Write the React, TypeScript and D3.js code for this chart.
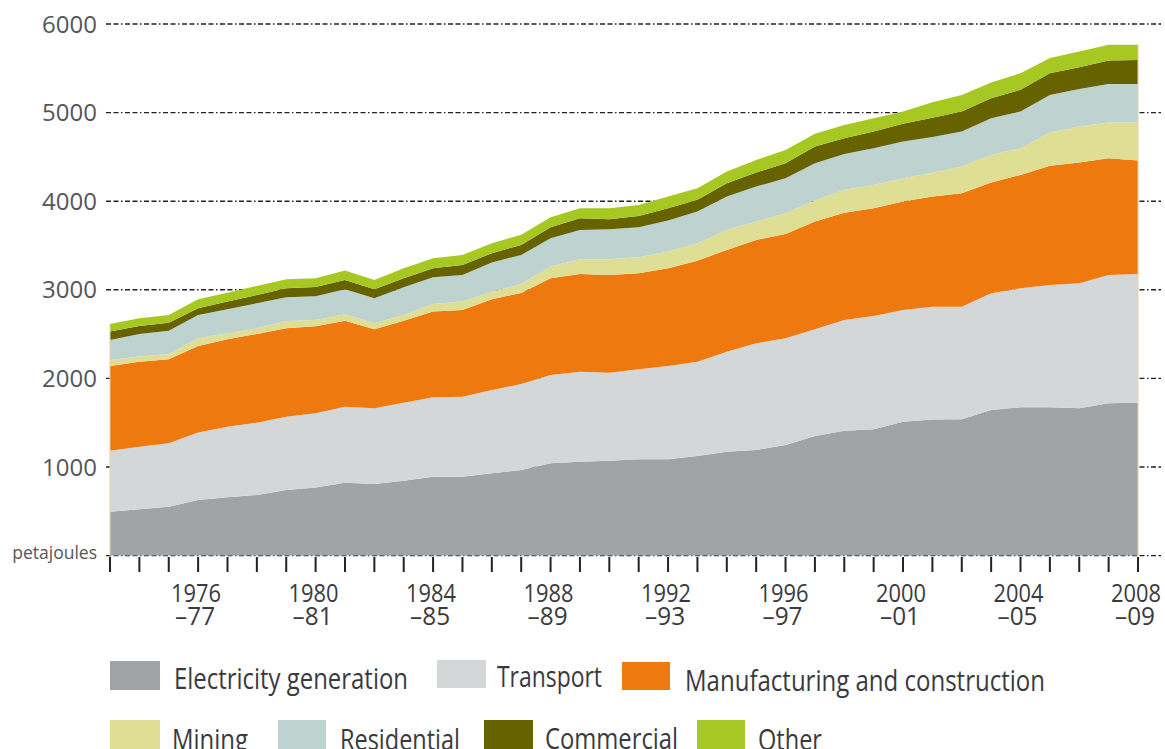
import React from "react";
import * as d3 from "d3";

const YEARS = [
  "1973–74", "1974–75", "1975–76", "1976–77", "1977–78", "1978–79", "1979–80", "1980–81", "1981–82",
  "1982–83", "1983–84", "1984–85", "1985–86", "1986–87", "1987–88", "1988–89", "1989–90", "1990–91",
  "1991–92", "1992–93", "1993–94", "1994–95", "1995–96", "1996–97", "1997–98", "1998–99", "1999–00",
  "2000–01", "2001–02", "2002–03", "2003–04", "2004–05", "2005–06", "2006–07", "2007–08", "2008–09",
];

const electricity = [496, 523, 552, 628, 658, 684, 741, 769, 823, 808, 846, 891, 891, 929, 966, 1042, 1060, 1071, 1087, 1087, 1124, 1173, 1192, 1249, 1350, 1410, 1426, 1512, 1535, 1539, 1644, 1674, 1674, 1663, 1719, 1726];
const transport = [688, 706, 716, 760, 797, 816, 827, 838, 858, 855, 880, 896, 903, 941, 971, 997, 1016, 994, 1016, 1054, 1065, 1129, 1205, 1204, 1205, 1250, 1279, 1261, 1275, 1271, 1317, 1344, 1381, 1411, 1449, 1453];
const manufacturing = [957, 960, 948, 978, 987, 1002, 998, 982, 971, 892, 926, 967, 979, 1024, 1028, 1092, 1103, 1103, 1084, 1103, 1140, 1148, 1166, 1178, 1215, 1211, 1216, 1223, 1242, 1280, 1249, 1279, 1344, 1362, 1318, 1279];
const mining = [67, 57, 60, 87, 68, 64, 83, 71, 72, 68, 64, 87, 94, 85, 101, 131, 166, 177, 181, 187, 197, 226, 207, 234, 237, 257, 263, 264, 268, 301, 313, 301, 376, 406, 401, 429];
const residential = [226, 256, 263, 263, 271, 282, 267, 267, 283, 282, 313, 301, 301, 328, 328, 320, 331, 339, 339, 350, 357, 376, 395, 395, 422, 406, 414, 413, 406, 395, 414, 414, 425, 423, 437, 437];
const commercial = [94, 90, 90, 76, 86, 94, 102, 106, 105, 102, 102, 102, 113, 106, 113, 125, 132, 113, 127, 140, 132, 151, 158, 169, 187, 177, 188, 200, 217, 226, 226, 245, 245, 248, 263, 271];
const other = [87, 87, 87, 102, 101, 102, 101, 98, 105, 105, 113, 113, 113, 113, 113, 112, 113, 124, 124, 131, 132, 131, 143, 150, 144, 150, 151, 139, 173, 188, 176, 188, 170, 176, 178, 170];

const SERIES_NAMES = ["Electricity generation", "Transport", "Manufacturing and construction", "Mining", "Residential", "Commercial", "Other"];
const SERIES_VALUES = [electricity, transport, manufacturing, mining, residential, commercial, other];
const SERIES_COLORS = ["#a0a4a6", "#d4d7d8", "#ee790e", "#dedf95", "#bed3d0", "#676200", "#a7c823"];

const Y_TICKS = [1000, 2000, 3000, 4000, 5000, 6000];
const Y_UNIT = "petajoules";
const X_LABEL_INDEX = [3, 7, 11, 15, 19, 23, 27, 31, 35];
const X_LABELS = [
  ["1976", "–77"], ["1980", "–81"], ["1984", "–85"], ["1988", "–89"], ["1992", "–93"],
  ["1996", "–97"], ["2000", "–01"], ["2004", "–05"], ["2008", "–09"],
];

// legend layout (positions only)
const LEGEND_LAYOUT = [
  { sx: 110, sy: 661, sw: 50, sh: 29, tx: 174, ty: 689, tw: 234 },
  { sx: 437, sy: 660, sw: 49, sh: 28, tx: 497, ty: 687, tw: 105 },
  { sx: 622, sy: 662, sw: 48, sh: 28, tx: 685, ty: 691, tw: 360 },
  { sx: 110, sy: 720, sw: 50, sh: 30, tx: 172, ty: 750, tw: 76 },
  { sx: 278, sy: 720, sw: 48, sh: 30, tx: 340, ty: 750, tw: 120 },
  { sx: 484, sy: 720, sw: 49, sh: 30, tx: 545, ty: 749, tw: 133 },
  { sx: 697, sy: 720, sw: 48, sh: 30, tx: 758, ty: 750, tw: 64 },
];

const FONT = "'Open Sans', 'Noto Sans', 'DejaVu Sans', sans-serif";

export default function App() {
  const W = 1165, H = 749;
  const x = d3.scaleLinear().domain([0, YEARS.length - 1]).range([110, 1138]);
  const y = d3.scaleLinear().domain([0, 6000]).range([555.6, 24]);

  const table = YEARS.map((yr, i) => {
    const row: any = { year: yr };
    SERIES_NAMES.forEach((n, k) => (row[n] = SERIES_VALUES[k][i]));
    return row;
  });
  const stacked = d3.stack<any>().keys(SERIES_NAMES)(table);
  const area = d3
    .area<any>()
    .x((d, i) => x(i))
    .y0((d) => y(d[0]))
    .y1((d) => y(d[1]));

  const totalTop = stacked[stacked.length - 1];

  return (
    <svg
      width={W}
      height={H}
      style={{ position: "absolute", left: 0, top: 0, background: "#fff" }}
    >
      {/* gridlines */}
      {[0, ...Y_TICKS].map((v) => (
        <line
          key={"g" + v}
          x1={106}
          x2={1161}
          y1={y(v)}
          y2={y(v)}
          stroke="#222"
          strokeWidth={1.4}
          strokeDasharray="5,2.5,5,2.5,1.5,2.5"
        />
      ))}
      {/* areas */}
      {stacked.map((s, k) => (
        <path key={s.key} d={area(s) as string} fill={SERIES_COLORS[k]} />
      ))}
      {/* faint edge lines */}
      <line x1={x(0)} x2={x(0)} y1={y(0)} y2={y(totalTop[0][1])} stroke="#e8cfa6" strokeWidth={1} />
      <line
        x1={x(YEARS.length - 1)}
        x2={x(YEARS.length - 1)}
        y1={y(0)}
        y2={y(totalTop[YEARS.length - 1][1])}
        stroke="#e8cfa6"
        strokeWidth={1}
      />
      {/* y labels */}
      {Y_TICKS.map((v) => (
        <text
          key={"yl" + v}
          x={97}
          y={y(v) + 8.5}
          textAnchor="end"
          fontFamily={FONT}
          fontSize={24}
          fill="#55565a"
        >
          {v}
        </text>
      ))}
      <text x={97} y={y(0) + 3} textAnchor="end" fontFamily={FONT} fontSize={17.5} fill="#55565a">
        {Y_UNIT}
      </text>
      {/* x ticks */}
      {YEARS.map((yr, i) => (
        <line key={"xt" + i} x1={x(i)} x2={x(i)} y1={557} y2={572} stroke="#222" strokeWidth={2} />
      ))}
      {/* x labels */}
      {X_LABEL_INDEX.map((idx, j) => (
        <text key={"xl" + idx} fontFamily={FONT} fontSize={25} fill="#3a3a3e" textAnchor="middle">
          <tspan x={x(idx) - 2} y={602} textLength={50} lengthAdjust="spacingAndGlyphs">
            {X_LABELS[j][0]}
          </tspan>
          <tspan x={x(idx) - 3} y={625} textLength={40} lengthAdjust="spacingAndGlyphs">
            {X_LABELS[j][1]}
          </tspan>
        </text>
      ))}
      {/* legend */}
      {SERIES_NAMES.map((n, k) => {
        const L = LEGEND_LAYOUT[k];
        return (
          <g key={"lg" + k}>
            <rect x={L.sx} y={L.sy} width={L.sw} height={L.sh} fill={SERIES_COLORS[k]} />
            <text
              x={L.tx}
              y={L.ty}
              fontFamily={FONT}
              fontSize={29}
              fill="#3a3a3e"
              textLength={L.tw}
              lengthAdjust="spacingAndGlyphs"
            >
              {n}
            </text>
          </g>
        );
      })}
    </svg>
  );
}
